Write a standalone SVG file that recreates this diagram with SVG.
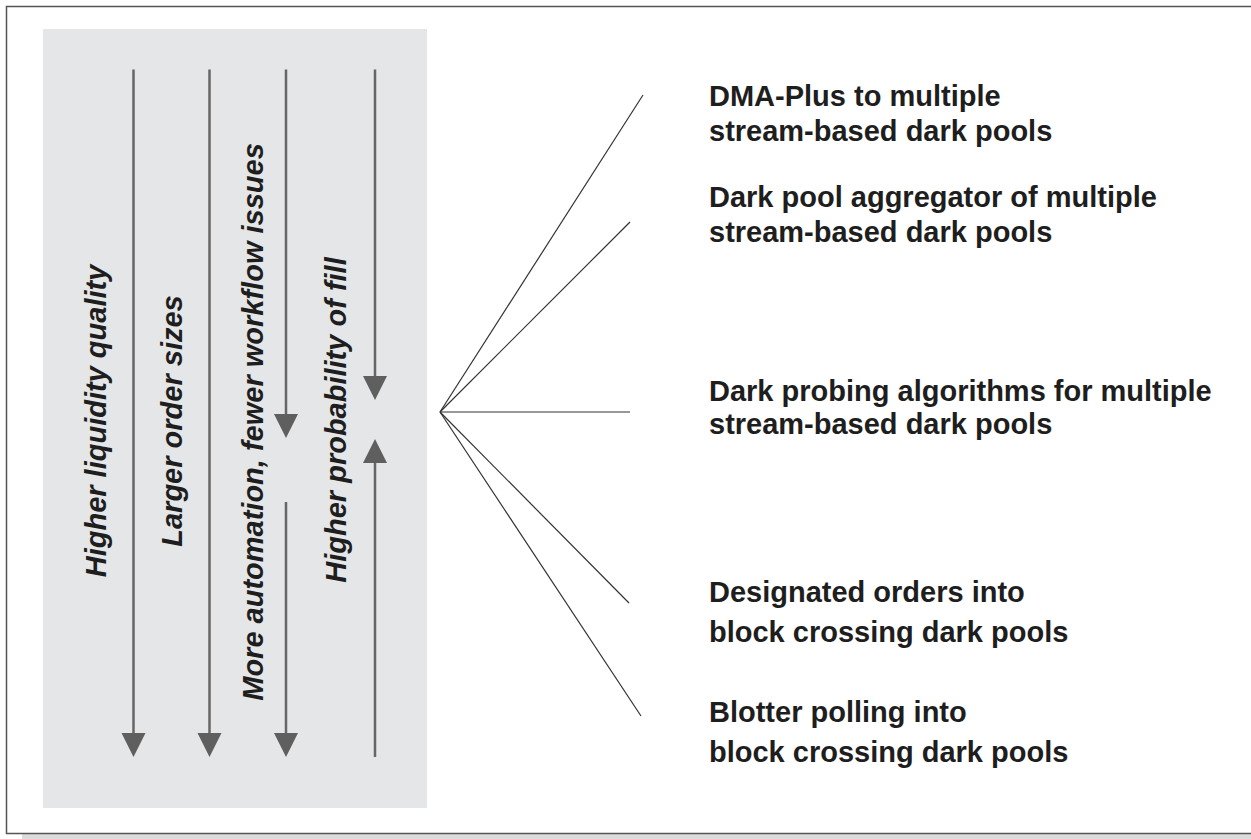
<svg xmlns="http://www.w3.org/2000/svg" width="1251" height="839" viewBox="0 0 1251 839">
  <style>
    .axis { stroke: #666666; stroke-width: 2.5; fill: none; }
    .head { fill: #5f5f5f; }
    .fan { stroke: #333333; stroke-width: 1.2; fill: none; }
    .vlabel { font-family: "Liberation Sans", Arial, sans-serif; font-weight: bold; font-style: italic; font-size: 29px; fill: #1e1e1e; text-anchor: middle; }
    .label { font-family: "Liberation Sans", Arial, sans-serif; font-weight: bold; font-size: 29px; fill: #1e1e1e; }
  </style>
  <rect width="1251" height="839" fill="#ffffff"/>
  <!-- frame and its shadow strip -->
  <rect x="22" y="834" width="1229" height="5" fill="#dcdcdc"/>
  <rect x="6.5" y="6.5" width="1260" height="827" fill="none" stroke="#555555" stroke-width="1.5"/>

  <!-- shaded panel with the vertical trend arrows -->
  <g id="panel">
    <rect x="43" y="29" width="384" height="779" fill="#e5e6e8"/>
  </g>

  <g id="trend-liquidity">
    <line class="axis" x1="133.5" y1="69.5" x2="133.5" y2="735"/>
    <polygon class="head" points="121.5,733 145.5,733 133.5,757"/>
    <text class="vlabel" transform="translate(106,421) rotate(-90)">Higher liquidity quality</text>
  </g>

  <g id="trend-size">
    <line class="axis" x1="209.5" y1="69.5" x2="209.5" y2="735"/>
    <polygon class="head" points="197.5,733 221.5,733 209.5,757"/>
    <text class="vlabel" transform="translate(182,421) rotate(-90)">Larger order sizes</text>
  </g>

  <g id="trend-automation">
    <line class="axis" x1="286" y1="69.5" x2="286" y2="416"/>
    <polygon class="head" points="274,414 298,414 286,438"/>
    <line class="axis" x1="286" y1="502" x2="286" y2="735"/>
    <polygon class="head" points="274,733 298,733 286,757"/>
    <text class="vlabel" transform="translate(263,422) rotate(-90)">More automation, fewer workflow issues</text>
  </g>

  <g id="trend-fill">
    <line class="axis" x1="375" y1="69.5" x2="375" y2="378"/>
    <polygon class="head" points="363,376 387,376 375,400"/>
    <line class="axis" x1="375" y1="461" x2="375" y2="757"/>
    <polygon class="head" points="363,463 387,463 375,439"/>
    <text class="vlabel" transform="translate(346,420) rotate(-90)">Higher probability of fill</text>
  </g>

  <!-- fan of connectors to the execution styles -->
  <g id="connectors">
    <line class="fan" x1="440" y1="412" x2="643" y2="95"/>
    <line class="fan" x1="440" y1="412" x2="630" y2="222"/>
    <line class="fan" x1="440" y1="412" x2="630" y2="412"/>
    <line class="fan" x1="440" y1="412" x2="629" y2="603"/>
    <line class="fan" x1="440" y1="412" x2="641" y2="716"/>
  </g>

  <g id="dma-plus">
    <text class="label" x="709" y="106">DMA-Plus to multiple</text>
    <text class="label" x="709" y="141">stream-based dark pools</text>
  </g>
  <g id="aggregator">
    <text class="label" x="709" y="207">Dark pool aggregator of multiple</text>
    <text class="label" x="709" y="242">stream-based dark pools</text>
  </g>
  <g id="probing">
    <text class="label" x="709" y="401">Dark probing algorithms for multiple</text>
    <text class="label" x="709" y="434">stream-based dark pools</text>
  </g>
  <g id="designated">
    <text class="label" x="709" y="602">Designated orders into</text>
    <text class="label" x="709" y="642">block crossing dark pools</text>
  </g>
  <g id="blotter">
    <text class="label" x="709" y="722">Blotter polling into</text>
    <text class="label" x="709" y="762">block crossing dark pools</text>
  </g>
</svg>
